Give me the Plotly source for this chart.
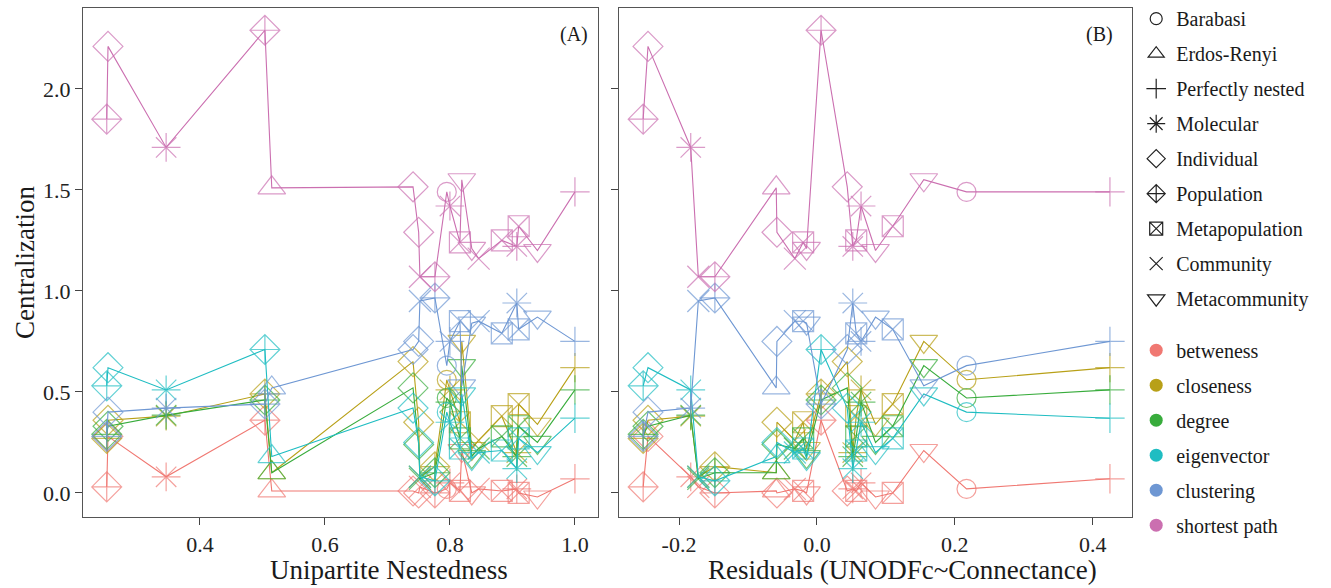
import plotly.graph_objects as go

# ---------------- data (one entry per network) ----------------
network_type = [
    "Individual", "Population", "Molecular", "Population", "Erdos-Renyi",
    "Individual", "Individual", "Community", "Population", "Barabasi",
    "Molecular", "Metacommunity", "Metapopulation", "Metacommunity", "Community",
    "Metapopulation", "Metapopulation", "Molecular", "Metacommunity", "Perfectly nested",
]
nestedness = [0.253, 0.251, 0.346, 0.504, 0.515, 0.741, 0.750, 0.752, 0.776, 0.795,
              0.800, 0.819, 0.816, 0.835, 0.846, 0.883, 0.910, 0.907, 0.940, 1.000]
residuals = [-0.245, -0.252, -0.183, 0.006, -0.059, 0.044, -0.058, -0.172, -0.148, 0.217,
             0.064, 0.155, -0.020, -0.015, -0.032, 0.057, 0.110, 0.052, 0.085, 0.425]

betweness = [0.28, 0.03, 0.08, 0.36, 0.01, 0.01, 0.00, 0.03, 0.00, 0.02,
             0.05, 0.21, 0.01, 0.00, 0.02, 0.01, 0.00, 0.02, -0.02, 0.07]
closeness = [0.36, 0.27, 0.38, 0.49, 0.10, 0.65, 0.35, 0.08, 0.13, 0.56,
             0.51, 0.75, 0.35, 0.22, 0.26, 0.38, 0.44, 0.20, 0.34, 0.62]
degree = [0.33, 0.29, 0.385, 0.46, 0.10, 0.52, 0.24, 0.07, 0.10, 0.47,
          0.45, 0.63, 0.27, 0.18, 0.22, 0.28, 0.33, 0.18, 0.25, 0.51]
eigenvector = [0.62, 0.53, 0.51, 0.71, 0.18, 0.42, 0.25, 0.08, 0.06, 0.40,
               0.35, 0.49, 0.22, 0.17, 0.20, 0.21, 0.27, 0.12, 0.20, 0.37]
clustering = [0.40, 0.28, 0.42, 0.44, 0.52, 0.71, 0.75, 0.95, 0.965, 0.63,
              0.75, 0.53, 0.85, 0.84, 0.85, 0.79, 0.81, 0.94, 0.87, 0.75]
shortest_path = [2.21, 1.85, 1.71, 2.29, 1.51, 1.515, 1.29, 1.07, 1.07, 1.49,
                 1.42, 1.55, 1.24, 1.21, 1.16, 1.25, 1.32, 1.22, 1.20, 1.49]

metric_names = ["betweness", "closeness", "degree", "eigenvector", "clustering", "shortest path"]
metric_values = [betweness, closeness, degree, eigenvector, clustering, shortest_path]
metric_colors = ["#F07872", "#B8A017", "#38AC3C", "#1FBDC2", "#6E97D3", "#CB6FB0"]

type_order = ["Barabasi", "Erdos-Renyi", "Perfectly nested", "Molecular", "Individual",
              "Population", "Metapopulation", "Community", "Metacommunity"]
type_symbols = {
    "Barabasi": "circle-open", "Erdos-Renyi": "triangle-up-open",
    "Perfectly nested": "cross-thin-open", "Molecular": "asterisk-open",
    "Individual": "diamond-open", "Population": "diamond-cross-open",
    "Metapopulation": "square-x-open", "Community": "x-thin-open",
    "Metacommunity": "triangle-down-open",
}
type_sizes = {
    "Barabasi": 19, "Erdos-Renyi": 24, "Perfectly nested": 21, "Molecular": 24,
    "Individual": 23, "Population": 23, "Metapopulation": 21, "Community": 22,
    "Metacommunity": 24,
}
legend_sizes = {
    "Barabasi": 12, "Erdos-Renyi": 14, "Perfectly nested": 14, "Molecular": 15,
    "Individual": 14, "Population": 14, "Metapopulation": 13, "Community": 13,
    "Metacommunity": 15,
}

x_ticks_a = [0.4, 0.6, 0.8, 1.0]
x_labels_a = ["0.4", "0.6", "0.8", "1.0"]
x_ticks_b = [-0.2, 0.0, 0.2, 0.4]
x_labels_b = ["-0.2", "0.0", "0.2", "0.4"]
y_ticks = [0.0, 0.5, 1.0, 1.5, 2.0]
y_labels = ["0.0", "0.5", "1.0", "1.5", "2.0"]

FONT = "Liberation Serif"
TXT = "#1a1a1a"

fig = go.Figure()


def add_panel(xvals, xaxis, yaxis):
    order = sorted(range(len(xvals)), key=lambda i: xvals[i])
    for name, vals, col in zip(metric_names, metric_values, metric_colors):
        fig.add_trace(go.Scatter(
            x=[xvals[i] for i in order],
            y=[vals[i] for i in order],
            mode="lines+markers",
            line=dict(color=col, width=1.1),
            marker=dict(
                symbol=[type_symbols[network_type[i]] for i in order],
                size=[type_sizes[network_type[i]] for i in order],
                color=col,
                line=dict(color=col, width=1.2),
            ),
            xaxis=xaxis, yaxis=yaxis,
            showlegend=False, hoverinfo="skip",
        ))


add_panel(nestedness, "x", "y")
add_panel(residuals, "x2", "y2")

# legend: network types
for t in type_order:
    fig.add_trace(go.Scatter(
        x=[None], y=[None], mode="markers", name=t,
        marker=dict(symbol=type_symbols[t], size=legend_sizes[t], color="#222",
                    line=dict(color="#222", width=1.2)),
        legend="legend", legendgroup=t, showlegend=True,
    ))
# legend: metrics
for name, col in zip(metric_names, metric_colors):
    fig.add_trace(go.Scatter(
        x=[None], y=[None], mode="markers", name=name,
        marker=dict(symbol="circle", size=13, color=col),
        legend="legend2", legendgroup=name, showlegend=True,
    ))

axis_common = dict(
    showgrid=False, zeroline=False, showline=True, mirror=True,
    linecolor="#555", linewidth=1.2, ticks="outside", ticklen=7,
    tickcolor="#444", tickwidth=1.2,
    tickfont=dict(family=FONT, size=22, color="#222"),
)

fig.update_layout(
    width=1331, height=588,
    margin=dict(l=83, r=199, t=8, b=71, autoexpand=False),
    paper_bgcolor="white", plot_bgcolor="white",
    font=dict(family=FONT, color=TXT),
    xaxis=dict(domain=[0, 0.491], range=[0.213, 1.037],
               tickvals=x_ticks_a, ticktext=x_labels_a, **axis_common),
    xaxis2=dict(domain=[0.511, 1.0], range=[-0.287, 0.457],
                tickvals=x_ticks_b, ticktext=x_labels_b, anchor="y2", **axis_common),
    yaxis=dict(range=[-0.119, 2.40], tickvals=y_ticks, ticktext=y_labels, **axis_common),
    yaxis2=dict(range=[-0.119, 2.40], tickvals=y_ticks, ticktext=y_labels,
                showticklabels=False, anchor="x2", **axis_common),
    legend=dict(x=1.004, y=1.0174, xanchor="left", yanchor="top",
                font=dict(family=FONT, size=20, color=TXT),
                bgcolor="rgba(0,0,0,0)", traceorder="grouped", tracegroupgap=6,
                itemwidth=30, maxheight=560),
    legend2=dict(x=1.004, y=0.366, xanchor="left", yanchor="top",
                 font=dict(family=FONT, size=20, color=TXT),
                 bgcolor="rgba(0,0,0,0)", traceorder="grouped", tracegroupgap=6,
                 itemwidth=30, maxheight=560),
    annotations=[
        dict(text="(A)", xref="x domain", yref="y domain", x=0.985, y=0.947,
             xanchor="right", yanchor="middle", showarrow=False,
             font=dict(family=FONT, size=20, color=TXT)),
        dict(text="(B)", xref="x2 domain", yref="y2 domain", x=0.967, y=0.947,
             xanchor="right", yanchor="middle", showarrow=False,
             font=dict(family=FONT, size=20, color=TXT)),
        dict(text="Unipartite Nestedness", xref="paper", yref="paper",
             x=0.2917, y=-0.104, xanchor="center", yanchor="middle", showarrow=False,
             font=dict(family=FONT, size=27, color=TXT)),
        dict(text="Residuals (UNODFc~Connectance)", xref="paper", yref="paper",
             x=0.781, y=-0.104, xanchor="center", yanchor="middle", showarrow=False,
             font=dict(family=FONT, size=27, color=TXT)),
        dict(text="Centralization", xref="paper", yref="paper",
             x=-0.0553, y=0.501, xanchor="center", yanchor="middle", showarrow=False,
             textangle=-90, font=dict(family=FONT, size=27, color=TXT)),
    ],
)

fig.write_html("out.html", config={"displayModeBar": False},
               post_script="document.body.style.margin='0';")
